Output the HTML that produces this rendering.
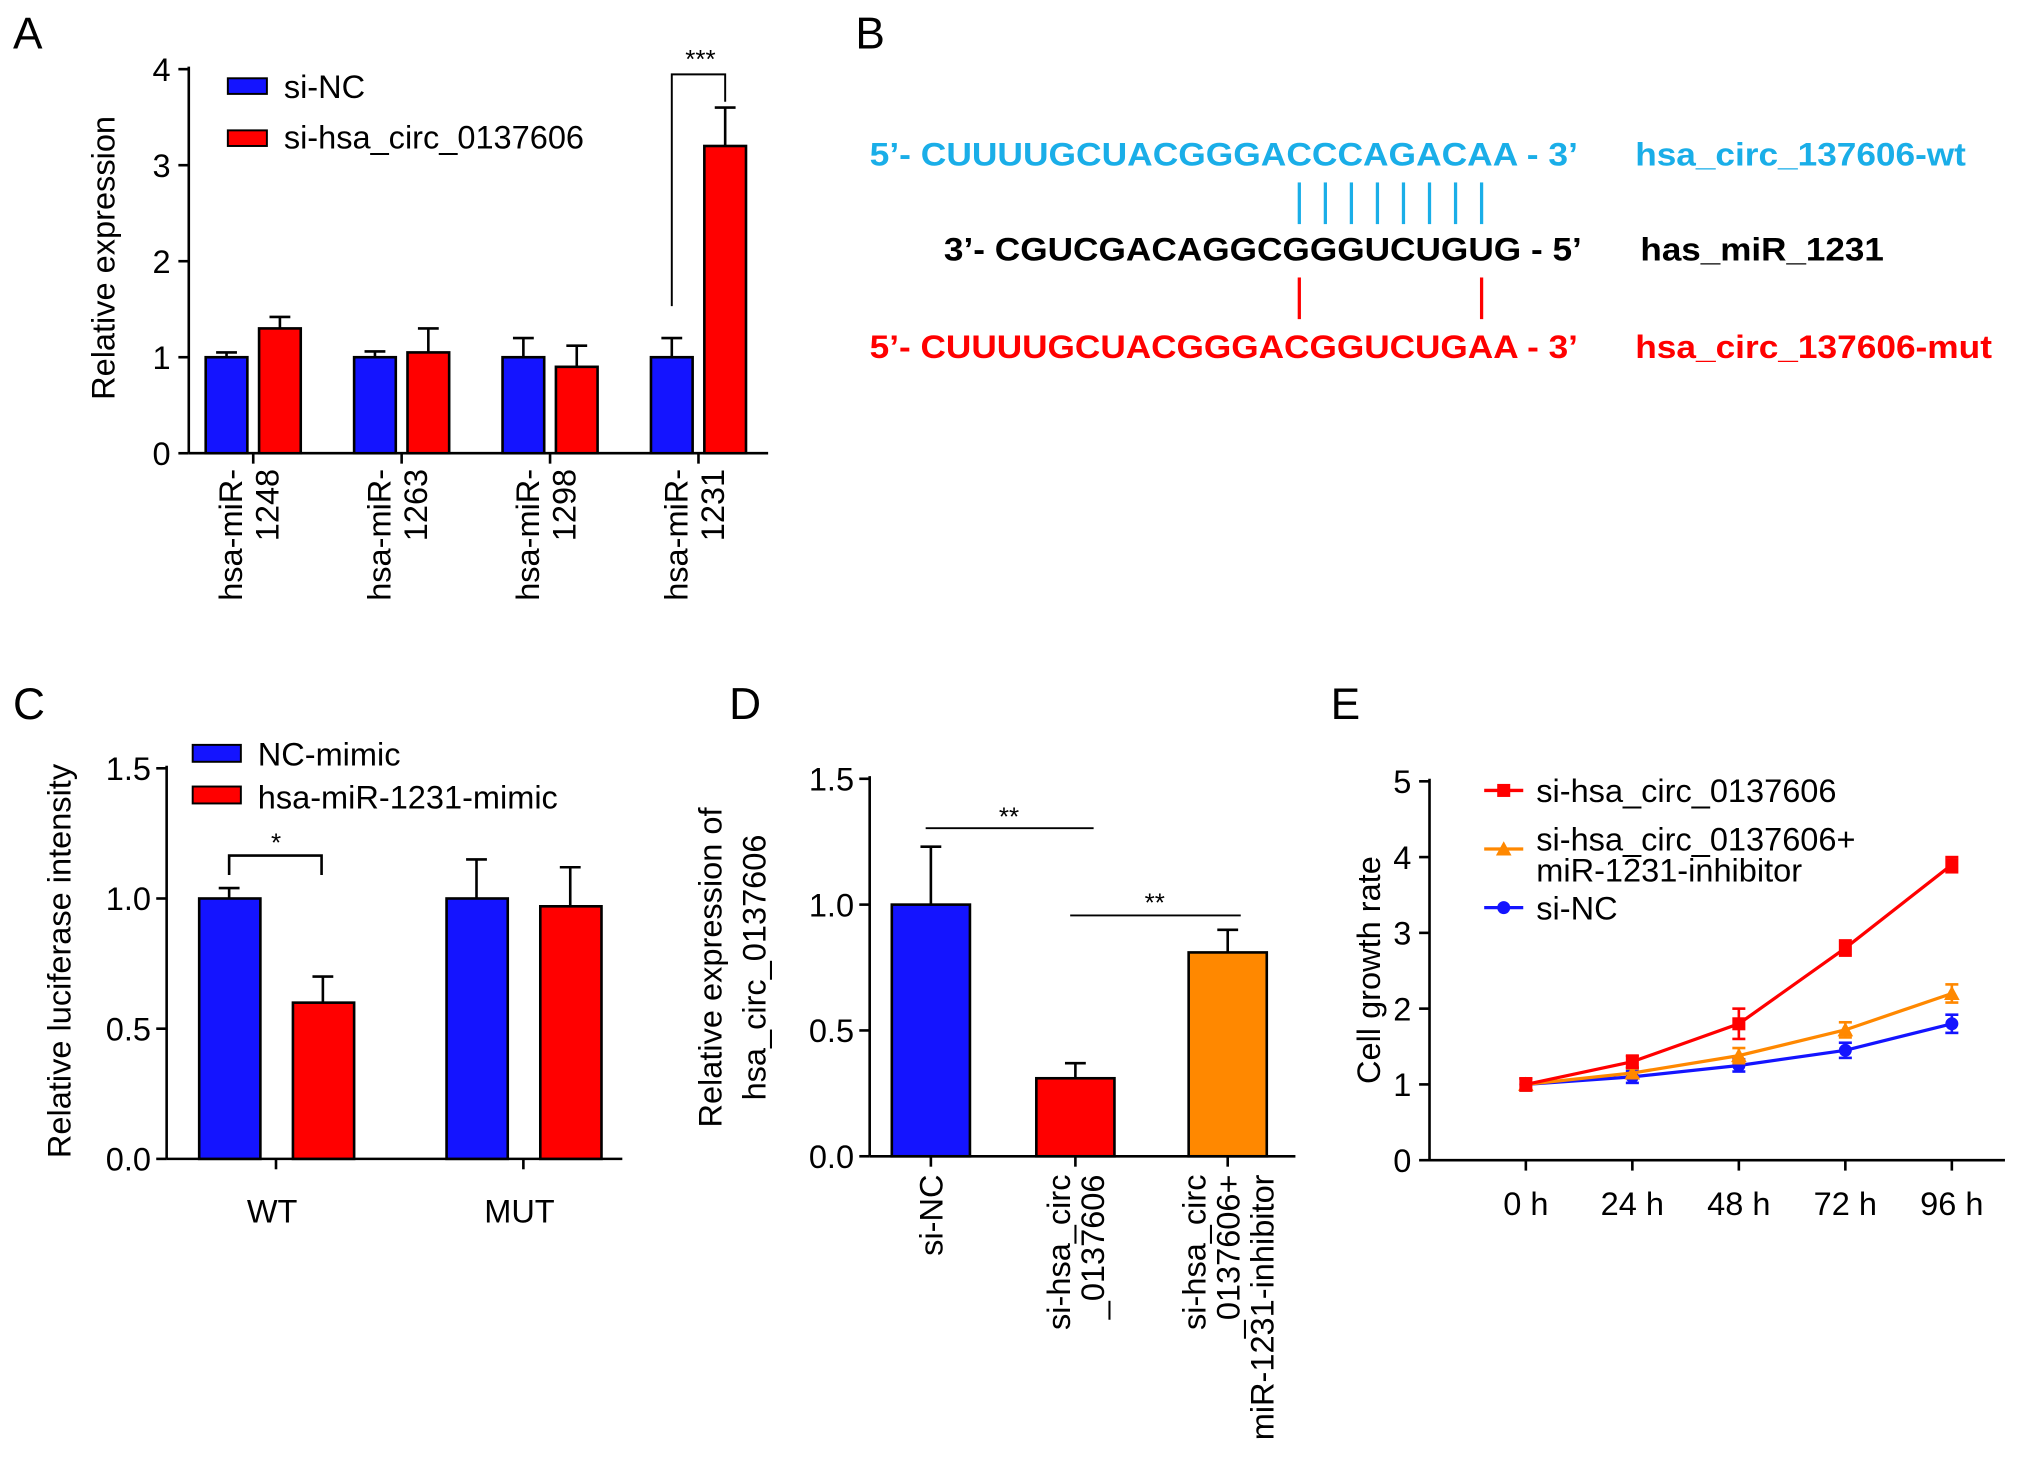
<!DOCTYPE html>
<html><head><meta charset="utf-8"><style>
html,body{margin:0;padding:0;background:#fff;}
svg{display:block;font-family:"Liberation Sans",Arial,sans-serif;}
</style></head><body>
<svg id="fig" width="2031" height="1465" viewBox="0 0 1560 1125" xmlns="http://www.w3.org/2000/svg">
<g id="gA"></g>
<g id="gB">
<text x="657" y="37" font-size="34">B</text>
<text x="668" y="127" font-size="25" font-weight="bold" fill="#1aaee8" textLength="544" lengthAdjust="spacingAndGlyphs">5’- CUUUUGCUACGGGACCCAGACAA - 3’</text>
<text x="1256" y="127" font-size="25" font-weight="bold" fill="#1aaee8" textLength="254" lengthAdjust="spacingAndGlyphs">hsa_circ_137606-wt</text>
<text x="725" y="200" font-size="25" font-weight="bold" fill="#000" textLength="490" lengthAdjust="spacingAndGlyphs">3’- CGUCGACAGGCGGGUCUGUG - 5’</text>
<text x="1260" y="200" font-size="25" font-weight="bold" fill="#000" textLength="187" lengthAdjust="spacingAndGlyphs">has_miR_1231</text>
<text x="668" y="275" font-size="25" font-weight="bold" fill="#ff0000" textLength="544" lengthAdjust="spacingAndGlyphs">5’- CUUUUGCUACGGGACGGUCUGAA - 3’</text>
<text x="1256" y="275" font-size="25" font-weight="bold" fill="#ff0000" textLength="274" lengthAdjust="spacingAndGlyphs">hsa_circ_137606-mut</text>
<g id="pairs"></g>
</g>
<g id="gC"></g>
<g id="gD"></g>
<g id="gE"></g>
</svg>
<script>
// ---------- data ----------
const aCategories = ["1248","1263","1298","1231"];
const aBlue = [1,1,1,1];
const aBlueErr = [0.05,0.06,0.2,0.2];
const aRed = [1.3,1.05,0.9,3.2];
const aRedErr = [0.12,0.25,0.22,0.4];
const aTicks = [0,1,2,3,4];

const cCategories = ["WT","MUT"];
const cBlue = [1.0,1.0];
const cBlueErr = [0.04,0.15];
const cRed = [0.6,0.97];
const cRedErr = [0.1,0.15];
const cTicks = ["0.0","0.5","1.0","1.5"];

const dValues = [1.0,0.31,0.81];
const dErr = [0.23,0.06,0.09];
const dTicks = ["0.0","0.5","1.0","1.5"];

const eTimes = ["0 h","24 h","48 h","72 h","96 h"];
const eRed = [1.0,1.3,1.8,2.8,3.9];
const eRedErr = [0.08,0.08,0.2,0.1,0.1];
const eOrange = [1.0,1.15,1.38,1.72,2.2];
const eOrangeErr = [0.08,0.06,0.1,0.1,0.12];
const eBlue = [1.0,1.1,1.25,1.45,1.8];
const eBlueErr = [0.08,0.08,0.08,0.1,0.12];
const eTicks = [0,1,2,3,4,5];

const FS=25;
const NS="http://www.w3.org/2000/svg";
const BLUE="#1414ff", RED="#ff0000", ORANGE="#ff8800", CYAN="#1aaee8";
function mk(parent,tag,attrs,text){const e=document.createElementNS(NS,tag);for(const k in attrs)e.setAttribute(k,attrs[k]);if(text!==undefined)e.textContent=text;parent.appendChild(e);return e;}
function line(p,x1,y1,x2,y2,c,w,name){const e=mk(p,"line",{x1,y1,x2,y2,stroke:c||"#000","stroke-width":w||2});

return e;}
function txt(p,x,y,s,fs,anchor,name,extra){const e=mk(p,"text",Object.assign({x,y,"font-size":fs,"text-anchor":anchor||"start"},extra||{}),s);

return e;}
function bar(p,x,w,y0,y1,fill,name){const e=mk(p,"rect",{x,y:Math.min(y0,y1),width:w,height:Math.abs(y0-y1),fill,stroke:"#000","stroke-width":2});

return e;}
function errUp(p,cx,yTop,yErr,name){const g=mk(p,"g",{});


line(g,cx,yTop,cx,yErr,"#000",2,name+'-stem');line(g,cx-8,yErr,cx+8,yErr,"#000",2,name+'-cap');}

// ---------- Panel A ----------
(function(){
const g=document.getElementById("gA");
txt(g,10,37,"A",34,"start","panel-label-a");
const x0=145,y0=348,yU=73.75,xEnd=590;
const y=v=>y0-v*yU;
const gx=i=>174+i*114;
line(g,x0,y(4)-2,x0,y0,"#000",2,"y-axis-a");line(g,x0,y0,xEnd,y0,"#000",2,"x-axis-a");
aTicks.forEach(t=>{line(g,x0-8,y(t),x0,y(t),"#000",2,"y-tick-a");txt(g,x0-14,y(t)+9,String(t),FS,"end","y-tick-label-a");});
aCategories.forEach((c,i)=>{
 const cb=gx(i), cr=cb+41;
 bar(g,cb-16,32,y0,y(aBlue[i]),BLUE,"bar-si-nc-"+c);
 errUp(g,cb,y(aBlue[i]),y(aBlue[i]+aBlueErr[i]),"error-bar-si-nc-"+c);
 bar(g,cr-16,32,y0,y(aRed[i]),RED,"bar-si-circ-"+c);
 errUp(g,cr,y(aRed[i]),y(aRed[i]+aRedErr[i]),"error-bar-si-circ-"+c);
 line(g,(cb+cr)/2,y0,(cb+cr)/2,y0+8,"#000",2,"x-tick-a");
 txt(g,0,0,"hsa-miR-",FS,"end","x-tick-label-a",{transform:`translate(${cb+12},360) rotate(-90)`});
 txt(g,0,0,c,FS,"end","x-tick-label-a",{transform:`translate(${cb+40},360) rotate(-90)`});
});
txt(g,0,0,"Relative expression",FS,"middle","y-axis-title-a",{transform:"translate(88,198) rotate(-90)"});
mk(g,"rect",{x:175,y:60,width:30,height:12,fill:BLUE,stroke:"#000","stroke-width":1.5,});
txt(g,218,75,"si-NC",FS,"start","legend-entry-si-nc");
mk(g,"rect",{x:175,y:100,width:30,height:12,fill:RED,stroke:"#000","stroke-width":1.5,});
txt(g,218,114,"si-hsa_circ_0137606",FS,"start","legend-entry-si-circ");
const p=mk(g,"polyline",{points:"516,235 516,57 557,57 557,78",fill:"none",stroke:"#000","stroke-width":1.5});


txt(g,538,52,"***",20,"middle","significance-label-a");
})();

// ---------- Panel B pair lines ----------
(function(){
const g=document.getElementById("pairs");
for(let i=0;i<8;i++){const x=998+i*20;line(g,x,140,x,172,CYAN,2.5,"pair-line-wt");}
line(g,998,213,998,245,RED,2.5,"pair-line-mut");line(g,1138,213,1138,245,RED,2.5,"pair-line-mut");
})();

// ---------- Panel C ----------
(function(){
const g=document.getElementById("gC");
txt(g,10,552,"C",34,"start","panel-label-c");
const x0=128,y0=890,yU=200,xEnd=478;
const y=v=>y0-v*yU;
line(g,x0,y(1.5)-2,x0,y0,"#000",2,"y-axis-c");line(g,x0,y0,xEnd,y0,"#000",2,"x-axis-c");
cTicks.forEach(t=>{const v=parseFloat(t);line(g,x0-8,y(v),x0,y(v),"#000",2,"y-tick-c");txt(g,x0-12,y(v)+9,t,FS,"end","y-tick-label-c");});
cCategories.forEach((c,i)=>{
 const cb=176+i*190, cr=cb+72;
 bar(g,cb-23,47,y0,y(cBlue[i]),BLUE,"bar-nc-mimic-"+c);
 errUp(g,cb,y(cBlue[i]),y(cBlue[i]+cBlueErr[i]),"error-bar-nc-mimic-"+c);
 bar(g,cr-23,47,y0,y(cRed[i]),RED,"bar-mir-mimic-"+c);
 errUp(g,cr,y(cRed[i]),y(cRed[i]+cRedErr[i]),"error-bar-mir-mimic-"+c);
 line(g,(cb+cr)/2,y0,(cb+cr)/2,y0+8,"#000",2,"x-tick-c");
 txt(g,(cb+cr)/2-3,939,c,FS,"middle","x-tick-label-c");
});
txt(g,0,0,"Relative luciferase intensity",FS,"middle","y-axis-title-c",{transform:"translate(54,738) rotate(-90)"});
mk(g,"rect",{x:148,y:572,width:37,height:13,fill:BLUE,stroke:"#000","stroke-width":1.5,});
txt(g,198,588,"NC-mimic",FS,"start","legend-entry-nc-mimic");
mk(g,"rect",{x:148,y:604,width:37,height:13,fill:RED,stroke:"#000","stroke-width":1.5,});
txt(g,198,621,"hsa-miR-1231-mimic",FS,"start","legend-entry-mir-mimic");
const p=mk(g,"polyline",{points:"176,672 176,657 247,657 247,672",fill:"none",stroke:"#000","stroke-width":2});


txt(g,212,654,"*",20,"middle","significance-label-c");
})();

// ---------- Panel D ----------
(function(){
const g=document.getElementById("gD");
txt(g,560,552,"D",34,"start","panel-label-d");
const x0=668,y0=888,yU=193.3,xEnd=995;
const y=v=>y0-v*yU;
line(g,x0,y(1.5)-2,x0,y0,"#000",2,"y-axis-d");line(g,x0,y0,xEnd,y0,"#000",2,"x-axis-d");
dTicks.forEach(t=>{const v=parseFloat(t);line(g,x0-8,y(v),x0,y(v),"#000",2,"y-tick-d");txt(g,x0-12,y(v)+9,t,FS,"end","y-tick-label-d");});
const centers=[715,826,943], cols=[BLUE,RED,ORANGE], names=["si-nc","si-circ","si-circ-inhibitor"];
dValues.forEach((v,i)=>{
 bar(g,centers[i]-30,60,y0,y(v),cols[i],"bar-"+names[i]);
 errUp(g,centers[i],y(v),y(v+dErr[i]),"error-bar-"+names[i]);
 line(g,centers[i],y0,centers[i],y0+8,"#000",2,"x-tick-d");
});
const lbls=[["si-NC"],["si-hsa_circ","_0137606"],["si-hsa_circ","_0137606+","miR-1231-inhibitor"]];
lbls.forEach((ls,i)=>{const n=ls.length;ls.forEach((s,j)=>{const x=centers[i]+(j-(n-1)/2)*26+9;
 txt(g,0,0,s,FS,"end","x-tick-label-d",{transform:`translate(${x},902) rotate(-90)`});});});
txt(g,0,0,"Relative expression of",FS,"middle","y-axis-title-d",{transform:"translate(554,743) rotate(-90)"});
txt(g,0,0,"hsa_circ_0137606",FS,"middle","y-axis-title-d",{transform:"translate(588,743) rotate(-90)"});
line(g,711,636,840,636,"#000",1.5,"significance-line-d1");txt(g,775,634,"**",20,"middle","significance-label-d1");
line(g,822,703,953,703,"#000",1.5,"significance-line-d2");txt(g,887,700,"**",20,"middle","significance-label-d2");
})();

// ---------- Panel E ----------
(function(){
const g=document.getElementById("gE");
txt(g,1022,552,"E",34,"start","panel-label-e");
const x0=1098,y0=891,yU=58.2,xEnd=1540;
const y=v=>y0-v*yU;
const x=i=>1172+i*81.8;
line(g,x0,y(5)-2,x0,y0,"#000",2,"y-axis-e");line(g,x0,y0,xEnd,y0,"#000",2,"x-axis-e");
eTicks.forEach(t=>{line(g,x0-8,y(t),x0,y(t),"#000",2,"y-tick-e");txt(g,x0-14,y(t)+9,String(t),FS,"end","y-tick-label-e");});
eTimes.forEach((t,i)=>{line(g,x(i),y0,x(i),y0+8,"#000",2,"x-tick-e");txt(g,x(i),933,t,FS,"middle","x-tick-label-e");});
txt(g,0,0,"Cell growth rate",FS,"middle","y-axis-title-e",{transform:"translate(1060,745) rotate(-90)"});
function series(vals,errs,col,name,marker){
 const sg=mk(g,"g",{});
 
 
 const pl=mk(sg,"polyline",{points:vals.map((v,i)=>x(i)+","+y(v)).join(" "),fill:"none",stroke:col,"stroke-width":2.5});
 
 
 vals.forEach((v,i)=>{
  line(sg,x(i),y(v-errs[i]),x(i),y(v+errs[i]),col,2,"error-bar-"+name);
  line(sg,x(i)-5,y(v-errs[i]),x(i)+5,y(v-errs[i]),col,2,"error-cap-"+name);
  line(sg,x(i)-5,y(v+errs[i]),x(i)+5,y(v+errs[i]),col,2,"error-cap-"+name);
  let m;
  if(marker==="sq") m=mk(sg,"rect",{x:x(i)-5,y:y(v)-5,width:10,height:10,fill:col});
  else if(marker==="tri") m=mk(sg,"polygon",{points:`${x(i)},${y(v)-6} ${x(i)-6},${y(v)+5} ${x(i)+6},${y(v)+5}`,fill:col});
  else m=mk(sg,"circle",{cx:x(i),cy:y(v),r:5,fill:col});
  
  
 });
}
series(eBlue,eBlueErr,BLUE,"si-nc","c");
series(eOrange,eOrangeErr,ORANGE,"si-circ-inhibitor","tri");
series(eRed,eRedErr,RED,"si-circ","sq");
line(g,1140,607,1170,607,RED,2.5,"legend-line-si-circ");mk(g,"rect",{x:1150,y:602,width:10,height:10,fill:RED,});
txt(g,1180,616,"si-hsa_circ_0137606",FS,"start","legend-entry-si-circ");
line(g,1140,652,1170,652,ORANGE,2.5,"legend-line-inhibitor");mk(g,"polygon",{points:"1155,646 1149,657 1161,657",fill:ORANGE,});
txt(g,1180,653,"si-hsa_circ_0137606+",FS,"start","legend-entry-inhibitor");
txt(g,1180,677,"miR-1231-inhibitor",FS,"start","legend-entry-inhibitor-2");
line(g,1140,697,1170,697,BLUE,2.5,"legend-line-si-nc");mk(g,"circle",{cx:1155,cy:697,r:5,fill:BLUE,});
txt(g,1180,706,"si-NC",FS,"start","legend-entry-si-nc-e");
})();
</script>
</body></html>
